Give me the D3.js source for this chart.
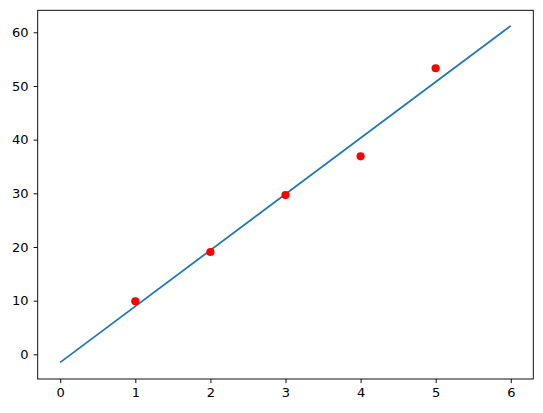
<!DOCTYPE html>
<html><head><meta charset="utf-8">
<script src="https://cdn.jsdelivr.net/npm/d3@7"></script>
<style>body{margin:0;background:#fff}svg{display:block}</style>
</head><body>
<svg id="c" width="543" height="413"></svg>
<script>
const pointX = [1, 2, 3, 4, 5];
const pointY = [9.87, 19.06, 29.68, 36.9, 53.3];
const lineX = [0, 6];
const lineY = [-1.5, 61.2];
const xTicks = [0, 1, 2, 3, 4, 5, 6];
const yTicks = [0, 10, 20, 30, 40, 50, 60];

const svg = d3.select("#c");
const L = 37.7, R = 533.3, T = 10.3, B = 379;
const x = d3.scaleLinear().domain([-0.3, 6.3]).range([L, R]);
const y = d3.scaleLinear().domain([-4.6, 64.1]).range([B, T]);
const font = "DejaVu Sans, sans-serif";

const xa = svg.append("g").attr("transform", `translate(0,${B})`)
  .call(d3.axisBottom(x).tickValues(xTicks).tickFormat(d3.format("d")).tickSize(4.1).tickPadding(5));
const ya = svg.append("g").attr("transform", `translate(${L},0)`)
  .call(d3.axisLeft(y).tickValues(yTicks).tickFormat(d3.format("d")).tickSize(4.1).tickPadding(5));
[xa, ya].forEach(a => {
  a.select(".domain").remove();
  a.selectAll("line").attr("stroke", "#000").attr("stroke-width", 0.94);
  a.selectAll("text").attr("font-family", font).attr("font-size", 13).attr("fill", "#000");
});

svg.append("path")
  .datum(lineX.map((v, i) => [v, lineY[i]]))
  .attr("fill", "none").attr("stroke", "#1f77b4").attr("stroke-width", 1.77)
  .attr("d", d3.line().x(d => x(d[0])).y(d => y(d[1])));

svg.selectAll("circle.p").data(pointX.map((v, i) => [v, pointY[i]])).enter()
  .append("circle").attr("class", "p")
  .attr("cx", d => x(d[0])).attr("cy", d => y(d[1])).attr("r", 4.1)
  .attr("fill", "#ff0000");

svg.append("rect").attr("x", L).attr("y", T).attr("width", R - L).attr("height", B - T)
  .attr("fill", "none").attr("stroke", "#000").attr("stroke-width", 0.94);
</script>
</body></html>
